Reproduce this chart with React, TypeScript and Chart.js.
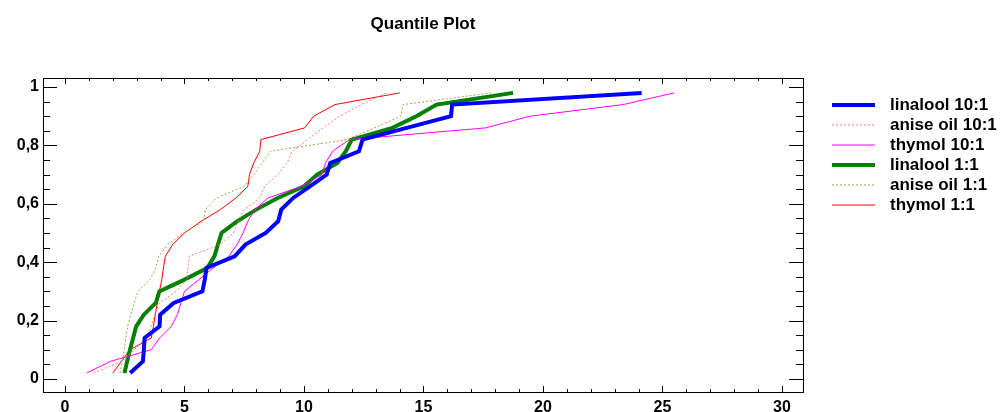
import React, { useEffect, useRef } from 'react';
import { Chart, registerables } from 'chart.js';

Chart.register(...registerables);

// Plotting positions (i - 0.5) / n for n = 25 observations per series
const quantileLevels = [
  0.02, 0.06, 0.1, 0.14, 0.18, 0.22, 0.26, 0.3, 0.34, 0.38, 0.42, 0.46, 0.5,
  0.54, 0.58, 0.62, 0.66, 0.7, 0.74, 0.78, 0.82, 0.86, 0.9, 0.94, 0.98,
];

// Sorted observations for each treatment
const linalool10 = [
  2.73, 3.26, 3.3, 3.33, 3.96, 3.98, 4.55, 5.75, 5.85, 5.92, 7.1, 7.55, 8.4,
  8.92, 9.05, 9.55, 10.25, 10.95, 11.1, 12.3, 12.45, 14.3, 16.15, 16.2, 24.13,
];
const aniseOil10 = [
  1.2, 2.35, 2.9, 3.4, 3.6, 3.75, 3.95, 4.65, 5.1, 5.15, 5.2, 6.5, 7.05, 7.25,
  7.5, 8.15, 8.35, 8.9, 9.3, 9.5, 10.15, 10.8, 11.5, 12.4, 13.45,
];
const thymol10 = [
  0.91, 1.9, 3.61, 3.96, 4.45, 4.7, 4.85, 5.0, 5.6, 6.2, 6.85, 7.2, 7.45, 7.65,
  7.95, 8.5, 9.9, 10.75, 10.9, 11.2, 11.9, 17.6, 19.45, 23.36, 25.49,
];
const linalool1 = [
  2.49, 2.6, 2.72, 2.85, 2.98, 3.3, 3.8, 3.95, 5.0, 5.95, 6.25, 6.4, 6.55, 7.2,
  8.0, 8.9, 10.0, 10.55, 11.4, 11.75, 12.0, 13.7, 14.7, 15.55, 18.75,
];
const aniseOil1 = [
  2.3, 2.4, 2.48, 2.55, 2.62, 2.75, 2.9, 3.05, 3.55, 3.8, 3.92, 4.3, 4.95, 5.8,
  5.87, 6.35, 7.5, 7.9, 8.25, 8.6, 11.8, 12.95, 14.05, 14.15, 17.85,
];
const thymol1 = [
  2.0, 2.36, 2.72, 3.61, 3.7, 3.78, 3.86, 3.95, 4.05, 4.12, 4.2, 4.5, 5.0, 5.7,
  6.5, 7.15, 7.65, 7.72, 7.9, 8.15, 8.2, 10.03, 10.4, 11.3, 14.01,
];

const seriesLabels = [
  'linalool 10:1',
  'anise oil 10:1',
  'thymol 10:1',
  'linalool 1:1',
  'anise oil 1:1',
  'thymol 1:1',
];
const seriesValues = [linalool10, aniseOil10, thymol10, linalool1, aniseOil1, thymol1];
const seriesColors = ['#0000ff', '#ff7878', '#ff00ff', '#008000', '#a8a048', '#ff0000'];
const seriesWidths = [4, 1, 1, 4, 1, 1];
const seriesDashes = [[], [2, 2], [], [], [2, 2], []];

const xTickValues = [0, 5, 10, 15, 20, 25, 30];
const yTickValues = [0, 0.2, 0.4, 0.6, 0.8, 1];
const xMinorStep = 1;
const yMinorStep = 0.05;

const FONT = "'Liberation Sans', Arial, sans-serif";

// Box frame with inward-pointing major and minor ticks on all four sides
const framePlugin = {
  id: 'boxFrame',
  afterDatasetsDraw(chart: any) {
    const { ctx, chartArea: a, scales } = chart;
    const xs = scales.x;
    const ys = scales.y;
    ctx.save();
    ctx.strokeStyle = '#000';
    ctx.lineWidth = 1;
    ctx.setLineDash([]);
    ctx.strokeRect(
      Math.round(a.left) + 0.5,
      Math.round(a.top) + 0.5,
      Math.round(a.right - a.left),
      Math.round(a.bottom - a.top)
    );
    ctx.beginPath();
    const xMax = xTickValues[xTickValues.length - 1];
    for (let i = 0; i * xMinorStep <= xMax + 1e-9; i++) {
      const v = i * xMinorStep;
      const px = Math.round(xs.getPixelForValue(v)) + 0.5;
      const major = xTickValues.some((t) => Math.abs(t - v) < 1e-9);
      const len = major ? 6 : 3;
      ctx.moveTo(px, a.bottom);
      ctx.lineTo(px, a.bottom - len);
      ctx.moveTo(px, a.top);
      ctx.lineTo(px, a.top + len);
    }
    const yMax = yTickValues[yTickValues.length - 1];
    for (let i = 0; i * yMinorStep <= yMax + 1e-9; i++) {
      const v = i * yMinorStep;
      const py = Math.round(ys.getPixelForValue(v)) + 0.5;
      const major = yTickValues.some((t) => Math.abs(t - v) < 1e-9);
      const len = major ? 14 : 7;
      ctx.moveTo(a.left, py);
      ctx.lineTo(a.left + len, py);
      ctx.moveTo(a.right, py);
      ctx.lineTo(a.right - len, py);
    }
    ctx.stroke();
    ctx.restore();
  },
};

// Legend to the right of the plot: line sample followed by the series name
const sideLegendPlugin = {
  id: 'sideLegend',
  afterDraw(chart: any) {
    const { ctx, chartArea: a } = chart;
    const x0 = a.right + 29;
    const sampleLen = 43;
    const top = 105;
    const rowH = 20;
    ctx.save();
    chart.data.datasets.forEach((ds: any, i: number) => {
      const y = top + i * rowH;
      ctx.beginPath();
      ctx.strokeStyle = ds.borderColor;
      ctx.lineWidth = ds.borderWidth;
      ctx.setLineDash(ds.borderDash || []);
      ctx.moveTo(x0, y);
      ctx.lineTo(x0 + sampleLen, y);
      ctx.stroke();
      ctx.setLineDash([]);
      ctx.fillStyle = '#000';
      ctx.font = `bold 17px ${FONT}`;
      ctx.textAlign = 'left';
      ctx.textBaseline = 'middle';
      ctx.fillText(ds.label, x0 + sampleLen + 15, y);
    });
    ctx.restore();
  },
};

export default function App() {
  const canvasRef = useRef<HTMLCanvasElement | null>(null);

  useEffect(() => {
    if (!canvasRef.current) return;
    const datasets = seriesLabels.map((label, s) => ({
      label,
      data: seriesValues[s].map((x, i) => ({ x, y: quantileLevels[i] })),
      borderColor: seriesColors[s],
      backgroundColor: seriesColors[s],
      borderWidth: seriesWidths[s],
      borderDash: seriesDashes[s],
      showLine: true,
      fill: false,
      tension: 0,
      pointRadius: 0,
      pointHoverRadius: 0,
    }));

    const chart = new Chart(canvasRef.current, {
      type: 'scatter',
      data: { datasets },
      options: {
        animation: false,
        responsive: false,
        maintainAspectRatio: false,
        events: [],
        layout: { padding: { left: 0, right: 197, top: 0, bottom: 0 } },
        plugins: {
          legend: { display: false },
          tooltip: { enabled: false },
          title: {
            display: true,
            text: 'Quantile Plot',
            fullSize: false,
            color: '#000',
            font: { family: FONT, size: 17, weight: 'bold', lineHeight: 1.2 },
            padding: { top: 14, bottom: 43.6 },
          },
        },
        scales: {
          x: {
            type: 'linear',
            min: -0.92,
            max: 30.88,
            grid: { display: false, drawTicks: false },
            border: { display: false },
            afterBuildTicks: (scale: any) => {
              scale.ticks = xTickValues.map((value) => ({ value }));
            },
            afterFit: (scale: any) => {
              scale.height = 20;
            },
            ticks: {
              color: '#000',
              padding: 6,
              maxRotation: 0,
              autoSkip: false,
              font: { family: FONT, size: 16, weight: 'bold' },
              callback: (v: any) => String(v),
            },
          },
          y: {
            type: 'linear',
            min: -0.045,
            max: 1.031,
            grid: { display: false, drawTicks: false },
            border: { display: false },
            afterBuildTicks: (scale: any) => {
              scale.ticks = yTickValues.map((value) => ({ value }));
            },
            afterFit: (scale: any) => {
              scale.width = 43;
            },
            ticks: {
              color: '#000',
              padding: 4,
              autoSkip: false,
              font: { family: FONT, size: 16, weight: 'bold' },
              callback: (v: any) => String(Math.round(v * 10) / 10).replace('.', ','),
            },
          },
        },
      },
      plugins: [framePlugin, sideLegendPlugin],
    });

    return () => {
      chart.destroy();
    };
  }, []);

  return (
    <div style={{ position: 'fixed', left: 0, top: 0, width: 1000, height: 412, background: '#fff' }}>
      <canvas ref={canvasRef} width={1000} height={412} style={{ width: 1000, height: 412, display: 'block' }} />
    </div>
  );
}
